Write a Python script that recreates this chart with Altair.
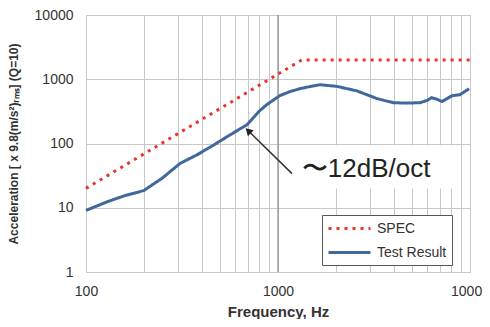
import altair as alt
import pandas as pd

# ---- data ----
spec_freq = [100, 1330, 10000]
spec_acc = [20, 2000, 2000]

test_freq = [100, 130, 160, 180, 200, 250, 309, 380, 458, 560, 688, 800, 872,
             1020, 1150, 1300, 1500, 1655, 2030, 2570, 3280, 3980, 4700, 5500,
             6000, 6300, 6700, 7150, 7600, 8060, 8870, 9890]
test_acc = [9.1, 12.5, 15.5, 17, 18.5, 29, 49, 67, 93, 135, 195, 320, 400,
            555, 640, 713, 780, 822, 774, 660, 500, 432, 425, 432,
            470, 518, 490, 450, 500, 555, 575, 713]

series_names = ["SPEC", "Test Result"]
series_colors = ["#e8342f", "#41689c"]

x_grid = [100, 200, 300, 400, 500, 600, 700, 800, 900, 1000, 2000, 3000, 4000,
          5000, 6000, 7000, 8000, 9000, 10000]
y_ticks = [1, 10, 100, 1000, 10000]

annot_text = "〜12dB/oct"
annot_pos = {"f": 1330, "a": 40}
arrow_tail = {"f": 1183, "a": 34}
arrow_tip = {"f": 700, "a": 158}
text_box = {"f1": 1183, "f2": 8300, "a1": 20, "a2": 93}

# ---- tables ----
lines_df = pd.concat([
    pd.DataFrame({"f": spec_freq, "a": spec_acc, "s": "SPEC"}),
    pd.DataFrame({"f": test_freq, "a": test_acc, "s": "Test Result"}),
])

xs = alt.Scale(type="log", domain=[100, 10000], nice=False)
ys = alt.Scale(type="log", domain=[1, 10000], nice=False)

x_axis = alt.Axis(values=x_grid, title="Frequency, Hz", ticks=False, domain=False,
                  labelExpr="indexof([100,1000,10000], datum.value) >= 0 ? datum.label : ''",
                  format="d", labelPadding=12, titlePadding=6, labelFlush=False,
                  titleFontSize=15, titleFontWeight="bold")
y_axis = alt.Axis(values=y_ticks, title="Acceleration [ x 9.8(m/s²)ᵣₘₛ] (Q=10)",
                  ticks=False, domain=False, format="d", labelPadding=13,
                  titlePadding=14, titleFontSize=12, titleFontWeight="bold")

box = alt.Chart(pd.DataFrame([text_box])).mark_rect(color="white").encode(
    x=alt.X("f1:Q", scale=xs, axis=x_axis), x2="f2:Q",
    y=alt.Y("a1:Q", scale=ys, axis=y_axis), y2="a2:Q")

major = alt.Chart(pd.DataFrame({"f": [1000]})).mark_rule(
    color="#8a8a8a", strokeWidth=1.2).encode(x=alt.X("f:Q", scale=xs))

lines = alt.Chart(lines_df).mark_line(strokeWidth=3).encode(
    x=alt.X("f:Q", scale=xs),
    y=alt.Y("a:Q", scale=ys),
    color=alt.Color("s:N", scale=alt.Scale(domain=series_names, range=series_colors),
                    legend=alt.Legend(title=None)),
    strokeDash=alt.StrokeDash("s:N", scale=alt.Scale(domain=series_names,
                                                      range=[[3, 5], [1, 0]]),
                              legend=alt.Legend(title=None)),
)

arrow_df = pd.DataFrame([{"f": arrow_tail["f"], "a": arrow_tail["a"],
                          "f2": arrow_tip["f"], "a2": arrow_tip["a"]}])
arrow = alt.Chart(arrow_df).mark_rule(color="#333333", strokeWidth=1.5).encode(
    x=alt.X("f:Q", scale=xs), y=alt.Y("a:Q", scale=ys), x2="f2:Q", y2="a2:Q")
head = alt.Chart(pd.DataFrame([arrow_tip])).mark_point(
    shape="triangle-up", filled=True, color="#222222", size=70, angle=315, opacity=1
).encode(x=alt.X("f:Q", scale=xs), y=alt.Y("a:Q", scale=ys))

text = alt.Chart(pd.DataFrame([{**annot_pos, "t": annot_text}])).mark_text(
    align="left", baseline="middle", fontSize=26, color="#222222",
    font="Liberation Sans").encode(
    x=alt.X("f:Q", scale=xs), y=alt.Y("a:Q", scale=ys), text="t:N")

chart = alt.layer(box, major, lines, arrow, head, text).properties(
    width=384, height=257,
    autosize=alt.AutoSizeParams(type="none"),
    padding={"left": 78, "top": 7, "right": 12, "bottom": 47},
).configure_view(stroke="#bdbdbd").configure_axis(
    gridColor="#c8c8c8", gridWidth=1, labelFont="Liberation Sans", labelFontSize=14,
    labelColor="#333333", titleFont="Liberation Sans",
    titleColor="#333333",
).configure_legend(
    orient="none", legendX=236, legendY=200, fillColor="white", strokeColor="#555555",
    padding=5, symbolType="M-1,0H5", symbolSize=196, symbolStrokeWidth=3,
    labelFont="Liberation Sans", labelFontSize=14, labelColor="#333333",
    rowPadding=8, labelOffset=33,
)

chart.save("out.html", embed_options={"renderer": "svg", "actions": False})
